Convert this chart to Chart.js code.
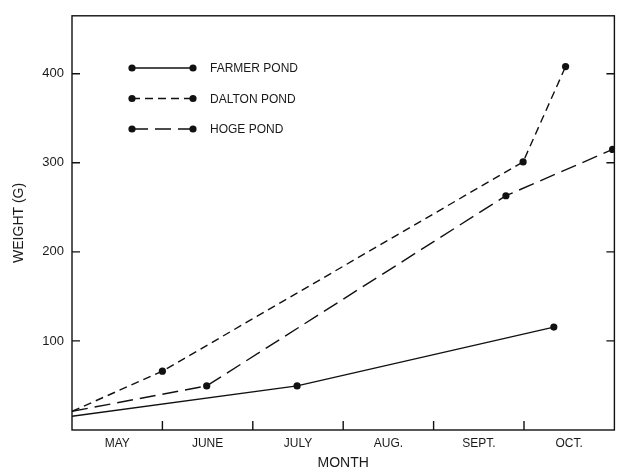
<!DOCTYPE html>
<html>
<head>
<meta charset="utf-8">
<script src="https://cdn.jsdelivr.net/npm/chart.js@4/dist/chart.umd.min.js"></script>
<style>
  html, body { margin: 0; padding: 0; background: #fff; }
  #wrap { width: 618px; height: 472px; }
</style>
</head>
<body>
<div id="wrap"><canvas id="graph" width="618" height="472"></canvas></div>
<script>
// months, x in month units from start of May
const months = ['MAY', 'JUNE', 'JULY', 'AUG.', 'SEPT.', 'OCT.'];
const yTicks = [100, 200, 300, 400];

const farmerX = [0, 2.49, 5.33];
const farmerY = [15.5, 49.5, 115.5];
const daltonX = [0, 1.0, 4.99, 5.46];
const daltonY = [21, 66, 301, 408];
const hogeX = [0, 1.49, 4.8, 5.98];
const hogeY = [21, 49.5, 263, 315];

const seriesNames = ['FARMER POND', 'DALTON POND', 'HOGE POND'];
const dashes = [[], [8, 5], [16, 7]];

function pts(xs, ys) {
  return xs.map((x, i) => ({x: x, y: ys[i]}));
}

const canvas = document.getElementById('graph');
const FONT = '"Liberation Sans", Arial, sans-serif';

function ds(label, data, dash) {
  return {
    label: label,
    data: data,
    showLine: true,
    borderColor: '#111',
    backgroundColor: '#111',
    borderWidth: 1.4,
    borderDash: dash,
    // no marker on the common starting point
    pointRadius: c => c.dataIndex === 0 ? 0 : 3.6,
    pointHoverRadius: c => c.dataIndex === 0 ? 0 : 3.6,
    pointBackgroundColor: '#111',
    pointBorderWidth: 0,
    tension: 0
  };
}

// box, inward tick marks and the legend block
const decor = {
  id: 'decor',
  afterDraw(chart) {
    const a = chart.chartArea;
    const xs = chart.scales.x, ys = chart.scales.y;
    const c = chart.ctx;
    c.save();
    c.strokeStyle = '#111';
    c.lineWidth = 1.4;
    c.setLineDash([]);
    c.strokeRect(a.left, a.top, a.right - a.left, a.bottom - a.top);
    c.beginPath();
    for (let m = 1; m < months.length; m++) {
      const px = xs.getPixelForValue(m);
      c.moveTo(px, a.bottom);
      c.lineTo(px, a.bottom - 9);
    }
    yTicks.forEach(v => {
      const py = ys.getPixelForValue(v);
      c.moveTo(a.left, py);
      c.lineTo(a.left + 8, py);
      c.moveTo(a.right, py);
      c.lineTo(a.right - 8, py);
    });
    c.stroke();

    // legend
    const lx0 = 132, lx1 = 193, ly0 = 68, gap = 30.5;
    seriesNames.forEach((name, i) => {
      const y = ly0 + i * gap;
      c.setLineDash(dashes[i]);
      c.lineWidth = 1.4;
      c.beginPath();
      c.moveTo(lx0, y);
      c.lineTo(lx1, y);
      c.stroke();
      c.setLineDash([]);
      c.fillStyle = '#111';
      [lx0, lx1].forEach(x => {
        c.beginPath();
        c.arc(x, y, 3.6, 0, Math.PI * 2);
        c.fill();
      });
      c.fillStyle = '#1a1a1a';
      c.font = '12px ' + FONT;
      c.textBaseline = 'middle';
      c.textAlign = 'left';
      c.fillText(name, 210, y + 1);
    });
    c.restore();
  }
};

new Chart(canvas, {
  type: 'scatter',
  data: {
    datasets: [
      ds(seriesNames[0], pts(farmerX, farmerY), dashes[0]),
      ds(seriesNames[1], pts(daltonX, daltonY), dashes[1]),
      ds(seriesNames[2], pts(hogeX, hogeY), dashes[2])
    ]
  },
  options: {
    responsive: false,
    animation: false,
    layout: {padding: {top: 10, right: 3, left: 0, bottom: 0}},
    plugins: {legend: {display: false}, tooltip: {enabled: false}},
    scales: {
      x: {
        type: 'linear',
        min: 0,
        max: months.length,
        grid: {display: false, drawTicks: false},
        border: {display: false},
        afterBuildTicks: s => { s.ticks = months.map((m, i) => ({value: i + 0.5})); },
        afterFit: s => { s.height = 42; },
        ticks: {
          color: '#1a1a1a',
          font: {family: FONT, size: 12},
          padding: 6,
          maxRotation: 0,
          autoSkip: false,
          callback: (v) => months[Math.floor(v)]
        },
        title: {
          display: true,
          text: 'MONTH',
          color: '#1a1a1a',
          font: {family: FONT, size: 14},
          padding: {top: 2, bottom: 0}
        }
      },
      y: {
        min: 0,
        max: 465,
        grid: {display: false, drawTicks: false},
        border: {display: false},
        afterBuildTicks: s => { s.ticks = yTicks.map(v => ({value: v})); },
        afterFit: s => { s.width = 72; },
        ticks: {
          color: '#1a1a1a',
          font: {family: FONT, size: 13},
          padding: 8
        },
        title: {
          display: true,
          text: 'WEIGHT (G)',
          color: '#1a1a1a',
          font: {family: FONT, size: 14},
          padding: {top: 11, bottom: 0}
        }
      }
    }
  },
  plugins: [decor]
});
</script>
</body>
</html>
